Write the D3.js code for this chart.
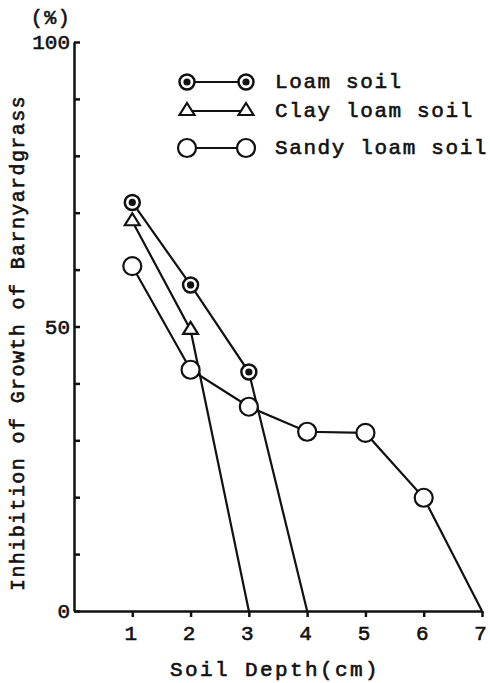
<!DOCTYPE html>
<html>
<head>
<meta charset="utf-8">
<script src="https://cdn.jsdelivr.net/npm/d3@7"></script>
<style>
  body { margin: 0; background: #fff; }
  text { font-family: "Liberation Mono", "DejaVu Sans Mono", monospace; fill: #111; stroke: #111; stroke-width: 0.6px; }
</style>
</head>
<body>
<svg id="chart" width="490" height="683"></svg>
<script>
// depth (cm) and inhibition (%)
var depths = [1, 2, 3, 4, 5, 6, 7];
var loam = [[1, 71.8], [2, 57.3], [3, 42.0], [4, 0]];
var clayLoam = [[1, 68.5], [2, 49.4], [3, 0]];
var sandyLoam = [[1, 60.6], [2, 42.4], [3, 35.9], [4, 31.5], [5, 31.3], [6, 19.9], [7, 0]];
var seriesNames = ["Loam soil", "Clay loam soil", "Sandy loam soil"];
var yTicks = [0, 10, 20, 30, 40, 50, 60, 70, 80, 90, 100];
var yLabels = [0, 50, 100];

var svg = d3.select('#chart');

var x = d3.scaleLinear().domain([0, 7]).range([74, 482]);
var y = d3.scaleLinear().domain([0, 100]).range([611, 42]);

var line = d3.line()
  .x(function(d) { return x(d[0]) })
  .y(function(d) { return y(d[1]) });

// axes
var xAxis = d3.axisBottom(x)
  .tickValues(depths)
  .tickFormat(d3.format('d'))
  .tickSizeInner(6)
  .tickSizeOuter(0)
  .tickPadding(8);

var yAxis = d3.axisLeft(y)
  .tickValues(yTicks)
  .tickSizeInner(-6)
  .tickSizeOuter(0)
  .tickPadding(4)
  .tickFormat(function(d) { return yLabels.includes(d) ? d : "" });

var gx = svg.append('g')
  .attr('transform', 'translate(0,' + y(0) + ')')
  .call(xAxis);
var gy = svg.append('g')
  .attr('transform', 'translate(' + x(0) + ',0)')
  .call(yAxis);

[gx, gy].forEach(function(g) {
  g.select('.domain').attr('stroke', '#111').attr('stroke-width', 2.5);
  g.selectAll('.tick line').attr('stroke', '#111').attr('stroke-width', 2.5);
  g.selectAll('.tick text')
    .attr('font-size', 21)
    .attr('fill', '#111');
});
gx.selectAll('.tick text').attr('dx', -2);

// axis titles
svg.append('text')
  .attr('x', 51).attr('y', 24)
  .attr('text-anchor', 'middle')
  .attr('font-size', 20)
  .attr('letter-spacing', 1.5)
  .text('(%)');

svg.append('text')
  .attr('transform', 'translate(24,343) rotate(-90)')
  .attr('text-anchor', 'middle')
  .attr('font-size', 20)
  .attr('letter-spacing', 1.4)
  .text('Inhibition of Growth of Barnyardgrass');

svg.append('text')
  .attr('x', 275).attr('y', 676)
  .attr('text-anchor', 'middle')
  .attr('font-size', 21)
  .attr('letter-spacing', 2.4)
  .text('Soil Depth(cm)');

// lines
[loam, clayLoam, sandyLoam].forEach(function(s) {
  svg.append('path')
    .attr('d', line(s))
    .attr('fill', 'none')
    .attr('stroke', '#111')
    .attr('stroke-width', 2.2);
});

// markers
function drawLoam(g, cx, cy) {
  g.append('circle').attr('cx', cx).attr('cy', cy).attr('r', 7.5)
    .attr('fill', '#fff').attr('stroke', '#111').attr('stroke-width', 2.5);
  g.append('circle').attr('cx', cx).attr('cy', cy).attr('r', 3.6)
    .attr('fill', '#111');
}
function drawTri(g, cx, cy) {
  var h = 12, w = 15;
  g.append('path')
    .attr('d', 'M' + cx + ',' + (cy - h * 2 / 3) + 'L' + (cx + w / 2) + ',' + (cy + h / 3) +
      'L' + (cx - w / 2) + ',' + (cy + h / 3) + 'Z')
    .attr('fill', '#fff').attr('stroke', '#111').attr('stroke-width', 2.2);
}
function drawOpen(g, cx, cy) {
  g.append('circle').attr('cx', cx).attr('cy', cy).attr('r', 9)
    .attr('fill', '#fff').attr('stroke', '#111').attr('stroke-width', 2.2);
}

var marks = svg.append('g');
loam.filter(function(d) { return d[1] > 0 }).forEach(function(d) { drawLoam(marks, x(d[0]), y(d[1])) });
clayLoam.filter(function(d) { return d[1] > 0 }).forEach(function(d) { drawTri(marks, x(d[0]), y(d[1])) });
sandyLoam.filter(function(d) { return d[1] > 0 }).forEach(function(d) { drawOpen(marks, x(d[0]), y(d[1])) });

// legend
var legend = svg.append('g');
var legY = [82, 111, 148];
var drawers = [drawLoam, drawTri, drawOpen];
seriesNames.forEach(function(name, i) {
  legend.append('line')
    .attr('x1', 187).attr('x2', 246)
    .attr('y1', legY[i]).attr('y2', legY[i])
    .attr('stroke', '#111').attr('stroke-width', 2);
  drawers[i](legend, 187, legY[i]);
  drawers[i](legend, 246, legY[i]);
  legend.append('text')
    .attr('x', 275).attr('y', legY[i] + 6)
    .attr('font-size', 21)
    .attr('letter-spacing', 1.6)
    .text(name);
});
</script>
</body>
</html>
